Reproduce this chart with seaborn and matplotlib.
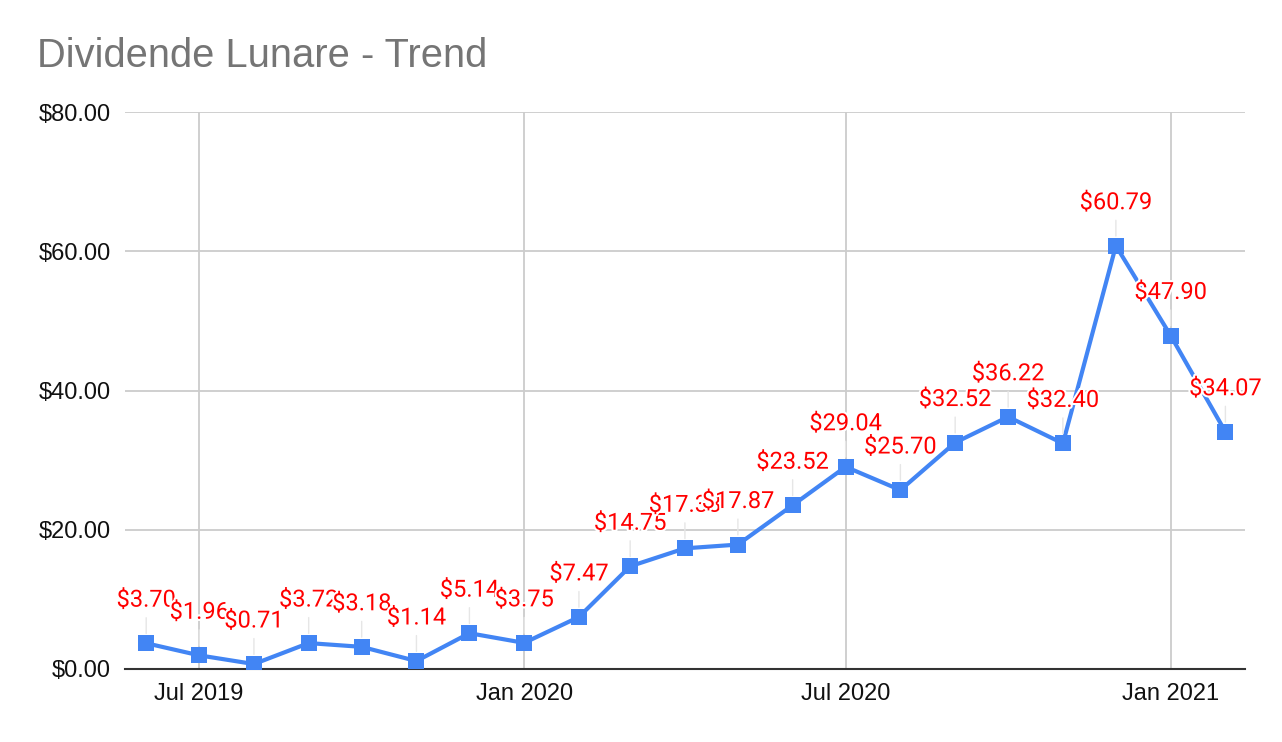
import pandas as pd
import seaborn as sns
import matplotlib.pyplot as plt
import matplotlib.dates as mdates
import matplotlib.patheffects as pe
from matplotlib.ticker import FuncFormatter, MultipleLocator

# monthly dividends
months = pd.date_range("2019-06-01", "2021-02-01", freq="MS")
values = [3.70, 1.96, 0.71, 3.72, 3.18, 1.14, 5.14, 3.75, 7.47, 14.75, 17.33,
          17.87, 23.52, 29.04, 25.70, 32.52, 36.22, 32.40, 60.79, 47.90, 34.07]
title = "Dividende Lunare - Trend"

data = pd.DataFrame({"month": months, "dividend": values})

sns.set_style("whitegrid")
plt.rcParams["font.family"] = ["Roboto", "DejaVu Sans"]

fig = plt.figure(figsize=(12.82, 7.42), dpi=100)
ax = fig.add_axes([0.0975, 0.0984, 0.8735, 0.7506])

sns.lineplot(x="month", y="dividend", data=data, ax=ax, color="#4285F4",
             linewidth=3, marker="s", markersize=11, markeredgewidth=0, zorder=3)

# data labels with leader lines
for d, v in zip(months, values):
    ax.annotate("${:.2f}".format(v), xy=(d, v), xytext=(0, 31),
                textcoords="offset points", ha="center", va="center",
                fontsize=17, color="#ff0000", zorder=5,
                path_effects=[pe.withStroke(linewidth=3, foreground="white")],
                arrowprops=dict(arrowstyle="-", color="#e6e6e6", lw=1,
                                shrinkA=2, shrinkB=7))

ax.set_xlim(pd.Timestamp("2019-05-20"), pd.Timestamp("2021-02-12"))
ax.set_ylim(0, 80)
ax.yaxis.set_major_locator(MultipleLocator(20))
ax.yaxis.set_major_formatter(FuncFormatter(lambda y, p: "${:.2f}".format(y)))
ax.xaxis.set_major_locator(mdates.MonthLocator(bymonth=[1, 7]))
ax.xaxis.set_major_formatter(mdates.DateFormatter("%b %Y"))

ax.grid(True, color="#cccccc", linewidth=1.3)
for s in ["top", "right", "left"]:
    ax.spines[s].set_visible(False)
ax.spines["bottom"].set_color("#333333")
ax.spines["bottom"].set_linewidth(1.5)
ax.tick_params(axis="both", length=0, labelsize=17, colors="#111111", pad=10)
for lbl in ax.get_xticklabels() + ax.get_yticklabels():
    lbl.set_family(["Liberation Sans", "DejaVu Sans"])
ax.set_xlabel("")
ax.set_ylabel("")

fig.text(0.029, 0.925, title, fontsize=28.7, color="#757575",
         family=["Liberation Sans", "DejaVu Sans"], va="center")

fig.savefig("out.png", dpi=100)
